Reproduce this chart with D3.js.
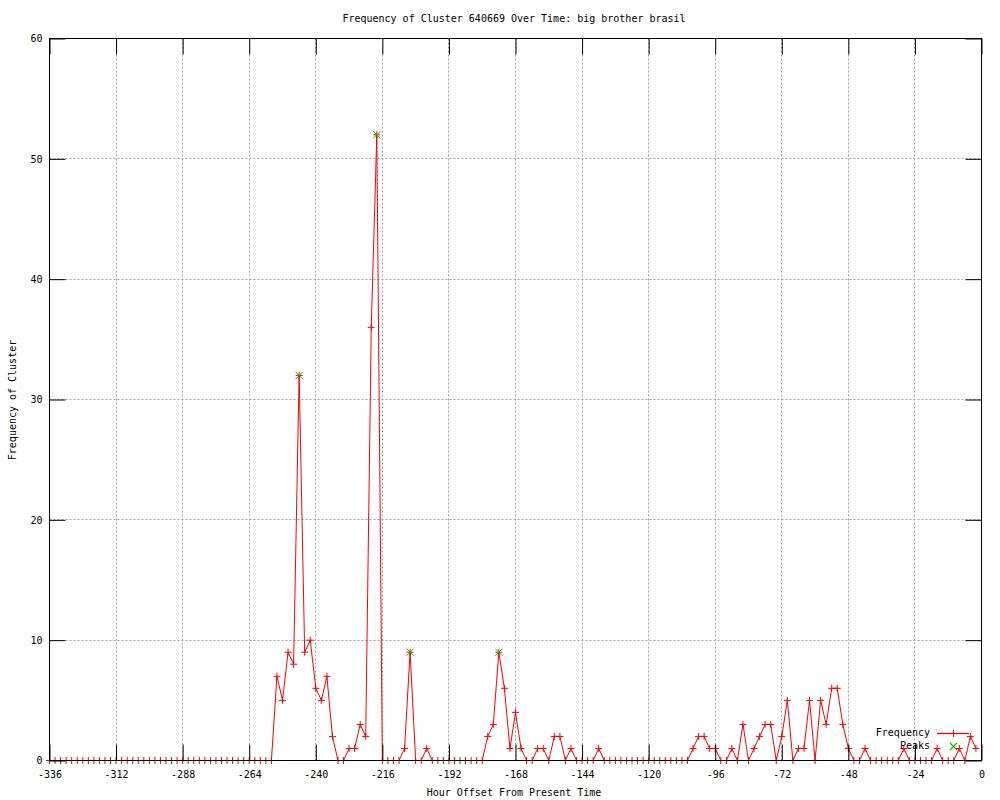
<!DOCTYPE html>
<html lang="en">
	<head>
		<meta charset="utf-8">
		<title>Frequency of Cluster 640669</title>
		<script src="https://d3js.org/d3.v7.min.js"></script>
		<style>
			body { margin: 0; background: #fff; }
			text { font-family: "DejaVu Sans Mono", "Liberation Mono", monospace; font-size: 10px; fill: #000; }
		</style>
	</head>
	<body>
		<div id="chart"></div>
	</body>
</html>

<script type="text/javascript">

/* Data: hourly offsets (every 2 hours) and cluster frequency */
var hours = [
	-336,-334,-332,-330,-328,-326,-324,-322,-320,-318,-316,-314,-312,-310,-308,-306,-304,-302,-300,-298,
	-296,-294,-292,-290,-288,-286,-284,-282,-280,-278,-276,-274,-272,-270,-268,-266,-264,-262,-260,-258,
	-256,-254,-252,-250,-248,-246,-244,-242,-240,-238,-236,-234,-232,-230,-228,-226,-224,-222,-220,-218,
	-216,-214,-212,-210,-208,-206,-204,-202,-200,-198,-196,-194,-192,-190,-188,-186,-184,-182,-180,-178,
	-176,-174,-172,-170,-168,-166,-164,-162,-160,-158,-156,-154,-152,-150,-148,-146,-144,-142,-140,-138,
	-136,-134,-132,-130,-128,-126,-124,-122,-120,-118,-116,-114,-112,-110,-108,-106,-104,-102,-100,-98,
	-96,-94,-92,-90,-88,-86,-84,-82,-80,-78,-76,-74,-72,-70,-68,-66,-64,-62,-60,-58,
	-56,-54,-52,-50,-48,-46,-44,-42,-40,-38,-36,-34,-32,-30,-28,-26,-24,-22,-20,-18,
	-16,-14,-12,-10,-8,-6,-4,-2
];
var frequency = [
	0,0,0,0,0,0,0,0,0,0,0,0,0,0,0,0,0,0,0,0,
	0,0,0,0,0,0,0,0,0,0,0,0,0,0,0,0,0,0,0,0,
	0,7,5,9,8,32,9,10,6,5,7,2,0,0,1,1,3,2,36,52,
	0,0,0,0,1,9,0,0,1,0,0,0,0,0,0,0,0,0,0,2,
	3,9,6,1,4,1,0,0,1,1,0,2,2,0,1,0,0,0,0,1,
	0,0,0,0,0,0,0,0,0,0,0,0,0,0,0,0,1,2,2,1,
	1,0,0,1,0,3,0,1,2,3,3,0,2,5,0,1,1,5,0,5,
	3,6,6,3,1,0,0,1,0,0,0,0,0,0,1,0,0,0,0,0,
	1,0,0,0,1,0,2,1
];
var peakHours = [-246, -218, -206, -174];
var peakValues = [32, 52, 9, 9];

var xTicks = [-336, -312, -288, -264, -240, -216, -192, -168, -144, -120, -96, -72, -48, -24, 0];
var yTicks = [0, 10, 20, 30, 40, 50, 60];

var titleText = "Frequency of Cluster 640669 Over Time: big brother brasil";
var xLabel = "Hour Offset From Present Time";
var yLabel = "Frequency of Cluster";

/* svg */
var w = 1000;
var h = 800;
var plot = {left: 49.5, right: 981.5, top: 38.5, bottom: 760.5};

var svg = d3.select("#chart")
			.append("svg")
			.attr("width", w)
			.attr("height", h);

var xScale = d3.scaleLinear()
				.domain([-336, 0])
				.range([plot.left, plot.right]);

var yScale = d3.scaleLinear()
				.domain([0, 60])
				.range([plot.bottom, plot.top]);

var data = hours.map(function(d, i) { return {x: d, y: frequency[i]}; });
var peaks = peakHours.map(function(d, i) { return {x: d, y: peakValues[i]}; });

var lineRed = "#ff0000";
var peakGreen = "#00c000";
var tickLen = 16;
var arm = 3.5; // marker arm

function plusPath(cx, cy) {
	return "M" + (cx - arm) + "," + cy + "H" + (cx + arm) + "M" + cx + "," + (cy - arm) + "V" + (cy + arm);
}
function crossPath(cx, cy) {
	return "M" + (cx - arm) + "," + (cy - arm) + "L" + (cx + arm) + "," + (cy + arm) +
		"M" + (cx - arm) + "," + (cy + arm) + "L" + (cx + arm) + "," + (cy - arm);
}

//grid lines (dotted)
var grid = svg.append("g").attr("stroke", "#a0a0a0").attr("stroke-dasharray", "2,2");
grid.selectAll(".vg")
	.data(xTicks.slice(1, -1))
	.enter().append("line")
	.attr("x1", function(d) { return Math.round(xScale(d) - 0.5) + 0.5; })
	.attr("x2", function(d) { return Math.round(xScale(d) - 0.5) + 0.5; })
	.attr("y1", plot.bottom)
	.attr("y2", plot.top);
grid.selectAll(".hg")
	.data(yTicks.slice(1, -1))
	.enter().append("line")
	.attr("y1", function(d) { return Math.round(yScale(d) - 0.5) + 0.5; })
	.attr("y2", function(d) { return Math.round(yScale(d) - 0.5) + 0.5; })
	.attr("x1", plot.left)
	.attr("x2", plot.right);

//frequency line
var freqLine = d3.line()
	.x(function(d) { return xScale(d.x); })
	.y(function(d) { return yScale(d.y); });

svg.append("path")
	.datum(data)
	.attr("d", freqLine)
	.style("fill", "none")
	.style("stroke", lineRed)
	.style("stroke-width", 1);

svg.append("g").selectAll("path")
	.data(data)
	.enter().append("path")
	.attr("d", function(d) { return plusPath(xScale(d.x), yScale(d.y)); })
	.style("stroke", lineRed)
	.style("fill", "none");

//peaks
svg.append("g").selectAll("path")
	.data(peaks)
	.enter().append("path")
	.attr("d", function(d) { return crossPath(xScale(d.x), yScale(d.y)); })
	.style("stroke", peakGreen)
	.style("fill", "none");

//axes with inward ticks, mirrored on top/right
var axisG = svg.append("g");
axisG.append("g")
	.attr("transform", "translate(0," + plot.bottom + ")")
	.call(d3.axisBottom(xScale).tickValues(xTicks).tickSizeInner(-tickLen).tickSizeOuter(0).tickPadding(10)
		.tickFormat(function(d) { return String(d); }));
axisG.append("g")
	.attr("transform", "translate(0," + plot.top + ")")
	.call(d3.axisTop(xScale).tickValues(xTicks).tickSizeInner(-tickLen).tickSizeOuter(0).tickFormat(""));
axisG.append("g")
	.attr("transform", "translate(" + plot.left + ",0)")
	.call(d3.axisLeft(yScale).tickValues(yTicks).tickSizeInner(-tickLen).tickSizeOuter(0).tickPadding(7)
		.tickFormat(function(d) { return String(d); }));
axisG.append("g")
	.attr("transform", "translate(" + plot.right + ",0)")
	.call(d3.axisRight(yScale).tickValues(yTicks).tickSizeInner(-tickLen).tickSizeOuter(0).tickFormat(""));
axisG.selectAll(".domain").remove();
axisG.selectAll("line").attr("stroke", "#000");
axisG.selectAll("text").attr("font-size", 10).attr("font-family", null).attr("fill", "#000");

//border
svg.append("rect")
	.attr("x", plot.left)
	.attr("y", plot.top)
	.attr("width", plot.right - plot.left)
	.attr("height", plot.bottom - plot.top)
	.attr("fill", "none")
	.attr("stroke", "#000");

//titles
svg.append("text")
	.attr("x", 514)
	.attr("y", 19)
	.attr("text-anchor", "middle")
	.attr("dominant-baseline", "middle")
	.text(titleText);

svg.append("text")
	.attr("x", 514)
	.attr("y", 793)
	.attr("text-anchor", "middle")
	.attr("dominant-baseline", "middle")
	.text(xLabel);

svg.append("text")
	.attr("transform", "translate(13,400) rotate(-90)")
	.attr("text-anchor", "middle")
	.attr("dominant-baseline", "middle")
	.text(yLabel);

//legend
var legendG = svg.append("g");
legendG.append("text")
	.attr("x", 930).attr("y", 733)
	.attr("text-anchor", "end")
	.attr("dominant-baseline", "middle")
	.text("Frequency");
legendG.append("text")
	.attr("x", 930).attr("y", 746)
	.attr("text-anchor", "end")
	.attr("dominant-baseline", "middle")
	.text("Peaks");
legendG.append("path")
	.attr("d", "M937,733.5H969")
	.style("stroke", lineRed).style("stroke-width", 1.3).style("fill", "none");
legendG.append("path")
	.attr("d", plusPath(953.5, 733.5))
	.style("stroke", lineRed).style("fill", "none");
legendG.append("path")
	.attr("d", crossPath(953.5, 746.5))
	.style("stroke", peakGreen).style("stroke-width", 1.2).style("fill", "none");

</script>
